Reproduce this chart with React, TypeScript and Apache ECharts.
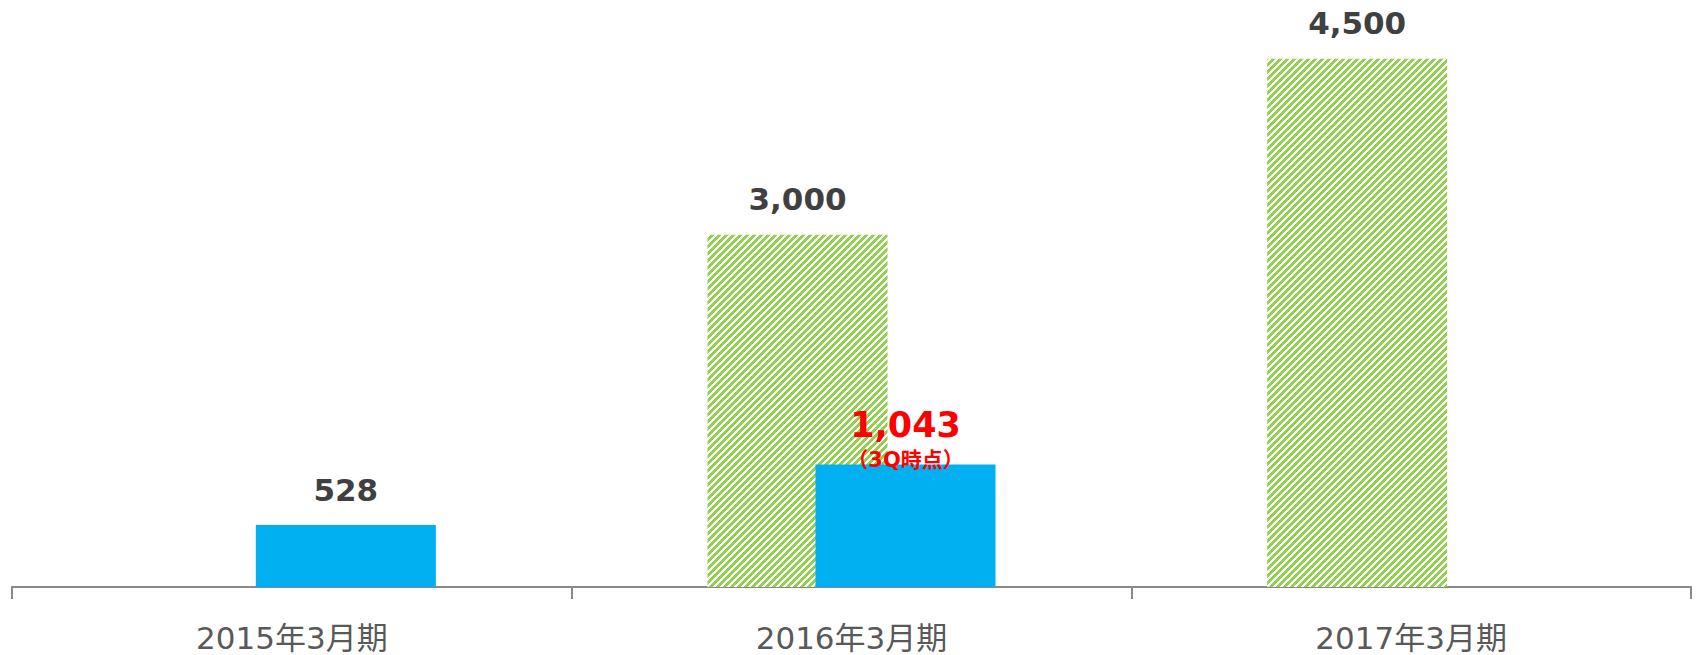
import React, { useEffect, useRef } from "react";
import * as echarts from "echarts";

const categories = ["2015年3月期", "2016年3月期", "2017年3月期"];
const planValues: (number | null)[] = [null, 3000, 4500];
const actualValues: (number | null)[] = [528, 1043, null];
const highlightIndex = 1;
const highlightNote = "（3Q時点）";

const fmt = (v: number) => v.toLocaleString("en-US");

function makeHatch(): HTMLCanvasElement {
  const c = document.createElement("canvas");
  const n = 7;
  c.width = n;
  c.height = n;
  const ctx = c.getContext("2d")!;
  const img = ctx.createImageData(n, n);
  for (let y = 0; y < n; y++) {
    for (let x = 0; x < n; x++) {
      const i = (y * n + x) * 4;
      const on = (x + y) % n < 4;
      if (on) {
        img.data[i] = 0x92;
        img.data[i + 1] = 0xd0;
        img.data[i + 2] = 0x50;
      } else {
        img.data[i] = 255;
        img.data[i + 1] = 255;
        img.data[i + 2] = 255;
      }
      img.data[i + 3] = 255;
    }
  }
  ctx.putImageData(img, 0, 0);
  return c;
}

export default function App() {
  const ref = useRef<HTMLDivElement>(null);
  useEffect(() => {
    if (!ref.current) return;
    const chart = echarts.init(ref.current, undefined, { renderer: "svg" });
    const hatch = makeHatch();
    const font = "'DejaVu Sans', Verdana, 'Noto Sans CJK JP', sans-serif";
    const baseLabel = {
      show: true,
      position: "top" as const,
      distance: 20,
      color: "#404040",
      fontWeight: "bold" as const,
      fontSize: 31,
      fontFamily: font,
      formatter: (p: any) => fmt(p.value),
    };
    chart.setOption({
      animation: false,
      grid: { left: 12, right: 5, top: 0, bottom: 68, containLabel: false },
      xAxis: {
        type: "category",
        data: categories,
        axisLine: { show: true, lineStyle: { color: "#898989", width: 2 } },
        axisTick: { show: true, length: 12, interval: 0, lineStyle: { color: "#898989", width: 2 } },
        axisLabel: {
          color: "#595959",
          fontSize: 31,
          fontFamily: font,
          margin: 35,
        },
      },
      yAxis: { type: "value", min: 0, max: 5000, show: false, splitLine: { show: false } },
      series: [
        {
          type: "bar",
          name: "計画",
          barWidth: 180,
          barGap: "-40%",
          data: planValues,
          itemStyle: {
            color: { image: hatch, repeat: "repeat" } as any,
          },
          label: baseLabel,
        },
        {
          type: "bar",
          name: "実績",
          barWidth: 180,
          barGap: "-40%",
          data: actualValues.map((v, i) =>
            i === highlightIndex && v != null
              ? {
                  value: v,
                  label: {
                    show: true,
                    position: "top",
                    distance: -8,
                    formatter: `{a|${fmt(v)}}\n{b|${highlightNote}}`,
                    rich: {
                      a: {
                        color: "#FF0000",
                        fontWeight: "bold",
                        fontSize: 35,
                        fontFamily: font,
                        lineHeight: 44,
                        align: "center",
                      },
                      b: {
                        color: "#FF0000",
                        fontWeight: "bold",
                        fontSize: 21,
                        fontFamily: font,
                        lineHeight: 26,
                        align: "center",
                      },
                    },
                  },
                }
              : v
          ),
          itemStyle: { color: "#00B0F0" },
          label: baseLabel,
        },
      ],
    });
    return () => chart.dispose();
  }, []);
  return (
    <div
      ref={ref}
      style={{ position: "fixed", left: 0, top: 0, width: 1696, height: 655, background: "#fff" }}
    />
  );
}
